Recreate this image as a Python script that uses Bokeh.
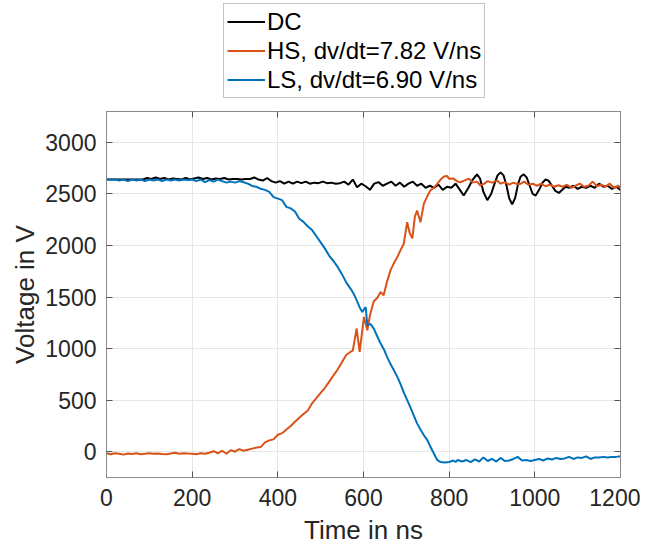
from bokeh.plotting import figure
from bokeh.models import Legend, LegendItem, LinearAxis, FixedTicker, Range1d
from bokeh.layouts import column
from bokeh.embed import file_html
from bokeh.resources import INLINE

# ---------------- data (ns, V) ----------------
t_dc = [0, 20, 40, 60, 75, 85, 95, 105, 115, 125, 135, 145, 155, 165, 175, 185, 195, 205, 215,
        225, 235, 245, 255, 265, 275, 285, 295, 305, 315, 325, 335, 345, 355, 365, 375, 385,
        395, 405, 415, 425, 435, 445, 455, 465, 475, 485, 495, 505, 515, 525, 535, 545, 555,
        565, 575, 585, 595, 605, 615, 625, 635, 645, 655, 665, 675, 685, 695, 705, 715, 725,
        735, 745, 755, 765, 775, 785, 795, 805, 815, 825, 834, 845, 855, 865, 872, 880, 889,
        898, 906, 913, 920, 927, 934, 940, 947, 954, 961, 967, 974, 981, 988, 995, 1002, 1010,
        1018, 1025, 1032, 1040, 1048, 1056, 1064, 1072, 1080, 1090, 1100, 1110, 1120, 1130,
        1140, 1150, 1160, 1170, 1180, 1190, 1200]
v_dc = [2640, 2640, 2640, 2640, 2640, 2640, 2655, 2645, 2660, 2645, 2655, 2640, 2650, 2645, 2640,
        2655, 2640, 2650, 2660, 2645, 2655, 2640, 2650, 2645, 2655, 2640, 2645, 2645, 2640,
        2645, 2645, 2660, 2640, 2630, 2655, 2625, 2610, 2625, 2600, 2620, 2600, 2620, 2605,
        2620, 2600, 2610, 2605, 2620, 2605, 2610, 2600, 2605, 2620, 2590, 2640, 2565, 2600,
        2575, 2540, 2600, 2615, 2580, 2600, 2620, 2580, 2610, 2570, 2600, 2620, 2580, 2600,
        2560, 2580, 2560, 2590, 2540, 2570, 2560, 2600, 2540, 2485, 2560, 2640, 2690, 2650,
        2520, 2440, 2500, 2600, 2680, 2710, 2680, 2580, 2460, 2400, 2460, 2600, 2670, 2690,
        2660, 2580, 2500, 2485, 2540, 2610, 2640, 2630, 2580, 2530, 2510, 2540, 2570, 2560,
        2580, 2550, 2570, 2560, 2580, 2560, 2600, 2570, 2580, 2550, 2570, 2540]

t_hs = [0, 10, 20, 30, 40, 50, 60, 70, 80, 90, 100, 110, 120, 130, 140, 150, 160, 170, 180, 190,
        200, 210, 220, 230, 240, 250, 260, 270, 280, 290, 300, 310, 320, 330, 340, 350, 360, 370,
        380, 390, 400, 410, 420, 430, 440, 450, 460, 470, 480, 490, 500, 510, 520, 530, 540, 550,
        560, 570, 575, 584, 591, 601, 609, 615, 624, 632, 640, 647, 655, 663, 671, 679, 687, 694,
        702, 708, 714, 720, 725, 733, 741, 748, 756, 764, 772, 780, 788, 795, 800, 810, 820, 826,
        835, 846, 855, 865, 873, 882, 890, 900, 912, 920, 930, 940, 950, 960, 967, 975, 985, 995,
        1005, 1015, 1025, 1035, 1045, 1055, 1065, 1075, 1085, 1095, 1105, 1115, 1125, 1135, 1145,
        1155, 1165, 1175, 1185, 1195, 1200]
v_hs = [-15, -25, -15, -20, -28, -18, -22, -15, -25, -20, -15, -20, -18, -22, -25, -18, -10, -20,
        -15, -18, -20, -25, -15, -20, -10, 5, -15, 10, -20, 15, 0, 25, 10, 20, 30, 40, 45, 90, 110,
        120, 165, 180, 215, 250, 290, 330, 365, 400, 470, 520, 570, 620, 680, 740, 800, 870, 940,
        970, 980, 1195, 968, 1307, 1178, 1323, 1460, 1490, 1549, 1517, 1650, 1759, 1830, 1888,
        1960, 2017, 2227, 2120, 2069, 2280, 2340, 2227, 2407, 2470, 2533, 2560, 2598, 2640, 2669,
        2675, 2647, 2649, 2620, 2614, 2630, 2649, 2610, 2620, 2582, 2600, 2625, 2610, 2630, 2600,
        2615, 2590, 2610, 2595, 2600, 2620, 2590, 2600, 2580, 2600, 2575, 2590, 2570, 2585, 2570,
        2590, 2560, 2580, 2600, 2570, 2580, 2620, 2575, 2590, 2570, 2600, 2560, 2580, 2555]

t_ls = [0, 10, 20, 30, 40, 50, 60, 70, 80, 90, 100, 110, 120, 130, 140, 150, 160, 170, 180, 190,
        200, 210, 220, 230, 240, 250, 260, 270, 280, 290, 300, 310, 320, 330, 340, 350, 360, 370,
        380, 390, 400, 410, 420, 430, 440, 450, 460, 470, 480, 490, 500, 510, 520, 530, 540, 550,
        560, 570, 577, 585, 591, 597, 605, 609, 616, 624, 632, 640, 648, 655, 663, 671, 679, 687,
        694, 702, 710, 718, 725, 733, 741, 749, 756, 764, 772, 780, 790, 800, 810, 815, 820, 830,
        840, 850, 860, 870, 880, 890, 900, 910, 920, 930, 940, 950, 960, 970, 980, 990, 1000,
        1010, 1020, 1030, 1040, 1050, 1060, 1070, 1080, 1090, 1100, 1110, 1120, 1130, 1140, 1150,
        1160, 1170, 1180, 1190, 1200]
v_ls = [2640, 2640, 2640, 2630, 2640, 2625, 2640, 2630, 2640, 2625, 2640, 2630, 2640, 2625, 2640,
        2630, 2640, 2630, 2640, 2635, 2640, 2625, 2640, 2615, 2635, 2620, 2640, 2625, 2610, 2620,
        2610, 2625, 2614, 2600, 2578, 2570, 2550, 2540, 2520, 2470, 2455, 2440, 2375, 2360, 2330,
        2260, 2230, 2185, 2150, 2090, 2030, 1970, 1900, 1850, 1790, 1720, 1640, 1580, 1533, 1460,
        1400, 1355, 1404, 1227, 1240, 1194, 1120, 1049, 990, 920, 850, 790, 726, 650, 575, 500,
        425, 345, 275, 215, 160, 113, 50, -15, -80, -100, -105, -100, -85, -100, -80, -95, -80,
        -100, -75, -95, -55, -90, -70, -95, -60, -90, -85, -70, -50, -85, -80, -90, -80, -70, -85,
        -65, -75, -60, -70, -65, -50, -70, -55, -60, -45, -70, -55, -55, -50, -55, -50, -50, -45]

labels = ["DC", "HS, dv/dt=7.82 V/ns", "LS, dv/dt=6.90 V/ns"]
colors = ["#000000", "#D95319", "#0072BD"]
x_ticks = [0, 200, 400, 600, 800, 1000, 1200]
y_ticks = [0, 500, 1000, 1500, 2000, 2500, 3000]
series = [(t_dc, v_dc), (t_hs, v_hs), (t_ls, v_ls)]

FONT = "Liberation Sans"
AXC = "#262626"
BOXC = "#8a8a8a"

# ---------------- main plot ----------------
p = figure(width=640, height=447, output_backend="svg", toolbar_location=None,
           x_range=Range1d(0, 1200), y_range=Range1d(-250, 3300),
           min_border_left=106, min_border_right=20, min_border_top=11, min_border_bottom=70,
           background_fill_color="white", border_fill_color="white")
p.outline_line_color = BOXC
p.outline_line_width = 1

for (tt, vv), c in zip(series, colors):
    p.line(tt, vv, color=c, line_width=2)

for ax in (p.xaxis[0], p.yaxis[0]):
    ax.major_tick_in = 6
    ax.major_tick_out = 0
    ax.minor_tick_in = 0
    ax.minor_tick_out = 0
    ax.axis_line_color = BOXC
    ax.major_tick_line_color = "#555555"
    ax.major_label_text_font = FONT
    ax.major_label_text_font_size = "23px"
    ax.major_label_text_color = AXC
    ax.axis_label_text_font = FONT
    ax.axis_label_text_font_size = "26px"
    ax.axis_label_text_font_style = "normal"
    ax.axis_label_text_color = AXC

p.xaxis[0].ticker = FixedTicker(ticks=x_ticks)
p.yaxis[0].ticker = FixedTicker(ticks=y_ticks)
p.xaxis[0].axis_label = "Time in ns"
p.yaxis[0].axis_label = "Voltage in V"
p.xaxis[0].major_label_standoff = 11
p.yaxis[0].major_label_standoff = 10
p.xaxis[0].axis_label_standoff = 6
p.yaxis[0].axis_label_standoff = 2

# box ticks on right and top sides (no labels)
ax_r = LinearAxis(ticker=FixedTicker(ticks=y_ticks), major_tick_in=6, major_tick_out=0,
                  minor_tick_in=0, minor_tick_out=0,
                  major_label_overrides={t: "" for t in y_ticks},
                  major_label_standoff=0, axis_line_color=BOXC,
                  major_tick_line_color="#555555")
p.add_layout(ax_r, "right")
ax_t = LinearAxis(ticker=FixedTicker(ticks=x_ticks), major_tick_in=6, major_tick_out=0,
                  minor_tick_in=0, minor_tick_out=0,
                  major_label_overrides={t: "" for t in x_ticks},
                  major_label_standoff=0, axis_line_color=BOXC,
                  major_tick_line_color="#555555")
p.add_layout(ax_t, "above")

p.xgrid.ticker = FixedTicker(ticks=x_ticks)
p.ygrid.ticker = FixedTicker(ticks=y_ticks)
p.grid.grid_line_color = "#e6e6e6"
p.grid.grid_line_width = 1

# ---------------- legend strip above the axes ----------------
pl = figure(width=640, height=100, output_backend="svg", toolbar_location=None,
            x_range=Range1d(0, 1200), y_range=Range1d(-250, 3300),
            x_axis_type=None, y_axis_type=None,
            min_border_left=0, min_border_right=0, min_border_top=0, min_border_bottom=0,
            background_fill_color="white", border_fill_color="white")
pl.outline_line_color = None
pl.grid.visible = False
leg_r = []
for (tt, vv), c in zip(series, colors):
    leg_r.append(pl.line(tt, vv, color=c, line_width=2, visible=False))

legend = Legend(items=[LegendItem(label=lab, renderers=[r]) for lab, r in zip(labels, leg_r)],
                location=(117, 2), orientation="vertical",
                label_text_font=FONT, label_text_font_size="24px", label_text_color="#000000",
                glyph_width=38, glyph_height=29, label_height=29, label_standoff=2,
                spacing=0, padding=3, margin=0,
                border_line_color=BOXC, border_line_width=1,
                background_fill_color="white", background_fill_alpha=1)
pl.add_layout(legend, "center")

layout = column(pl, p, spacing=0)
open("out.html", "w").write(file_html(layout, INLINE))
